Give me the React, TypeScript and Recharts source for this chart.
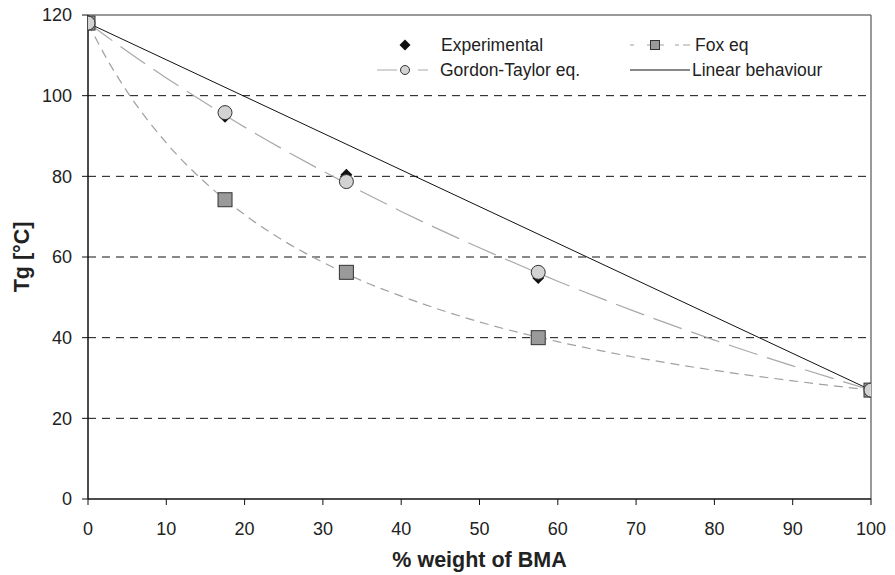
import { ComposedChart, Line, Scatter, XAxis, YAxis, ReferenceLine, Legend, Label } from 'recharts';

// measured glass transition temperatures vs. BMA weight fraction
const bmaWeight = [0, 17.5, 33, 57.5, 100];
const tgExperimental = [118, 94.8, 80.4, 54.8, 27];
const tgGordonTaylor = [118, 95.8, 78.7, 56.2, 27];
const tgFox = [118, 74.2, 56.2, 40, 27];

// model curves
const curveWeight = [0, 2.5, 5, 10, 15, 20, 25, 30, 35, 40, 50, 60, 70, 80, 90, 100];
const gordonTaylorCurve = [118, 114.5, 111, 104.4, 98.2, 92.2, 86.6, 81.3, 76.2, 71.3, 62.3, 54, 46.4, 39.4, 33, 27];
const foxCurve = [118, 108.8, 101, 88.3, 78.4, 70.5, 64, 58.7, 54.1, 50.3, 43.9, 39, 35.1, 31.9, 29.3, 27];

const linearWeight = [0, 100];
const linearTg = [118, 27];

const xTicks = [0, 10, 20, 30, 40, 50, 60, 70, 80, 90, 100];
const yTicks = [0, 20, 40, 60, 80, 100, 120];
const gridLines = [20, 40, 60, 80, 100];

const toPoints = (xs: number[], ys: number[]) => xs.map((x, i) => ({ x, y: ys[i] }));

const expData = toPoints(bmaWeight, tgExperimental);
const gtData = toPoints(bmaWeight, tgGordonTaylor);
const foxData = toPoints(bmaWeight, tgFox);
const gtCurveData = toPoints(curveWeight, gordonTaylorCurve);
const foxCurveData = toPoints(curveWeight, foxCurve);
const linearData = toPoints(linearWeight, linearTg);

const FONT = '"Liberation Sans", Arial, Helvetica, sans-serif';
const TEXT = '#222';
const GT_COLOR = '#a8a8a8';
const FOX_COLOR = '#a0a0a0';

const Diamond = ({ cx, cy, s = 6 }: any) => (
  <polygon points={`${cx},${cy - s} ${cx + s},${cy} ${cx},${cy + s} ${cx - s},${cy}`} fill="#111" />
);

const Dot = ({ cx, cy, r = 7 }: any) => (
  <circle cx={cx} cy={cy} r={r} fill="#d3d3d3" stroke="#333" strokeWidth={1} />
);

const Square = ({ cx, cy, s = 7 }: any) => (
  <rect x={cx - s} y={cy - s} width={2 * s} height={2 * s} fill="#9a9a9a" stroke="#333" strokeWidth={1} />
);

function LegendBox() {
  const t = { fontFamily: FONT, fontSize: 17.5, fill: TEXT };
  return (
    <svg width={440} height={50} style={{ overflow: 'visible' }}>
      {/* Experimental */}
      <Diamond cx={35} cy={16} s={5.5} />
      <text x={71} y={22} {...t}>Experimental</text>
      {/* Gordon-Taylor */}
      <line x1={7} y1={41} x2={27} y2={41} stroke={GT_COLOR} strokeWidth={1} />
      <Dot cx={35} cy={41} r={4.5} />
      <line x1={48} y1={41} x2={58} y2={41} stroke={GT_COLOR} strokeWidth={1} />
      <text x={70} y={47} {...t}>Gordon-Taylor eq.</text>
      {/* Fox */}
      <line x1={260} y1={16} x2={264} y2={16} stroke={FOX_COLOR} strokeWidth={1} />
      <line x1={277} y1={16} x2={294} y2={16} stroke={FOX_COLOR} strokeWidth={1} />
      <Square cx={285} cy={16} s={4.5} />
      <line x1={305} y1={16} x2={309} y2={16} stroke={FOX_COLOR} strokeWidth={1} />
      <line x1={313} y1={16} x2={320} y2={16} stroke={FOX_COLOR} strokeWidth={1} />
      <text x={325} y={22} {...t}>Fox eq</text>
      {/* Linear */}
      <line x1={260} y1={41} x2={320} y2={41} stroke="#111" strokeWidth={1} />
      <text x={322} y={47} {...t}>Linear behaviour</text>
    </svg>
  );
}

export default function App() {
  const tick = { fontFamily: FONT, fontSize: 18, fill: TEXT };
  const title = { fontFamily: FONT, fontSize: 21.5, fontWeight: 'bold', fill: TEXT };
  return (
    <div style={{ position: 'absolute', left: 0, top: 0, width: 895, height: 575, background: '#fff' }}>
      <ComposedChart
        width={895}
        height={575}
        margin={{ top: 15, right: 24, bottom: 0, left: 8 }}
      >
        <XAxis
          type="number"
          dataKey="x"
          domain={[0, 100]}
          ticks={xTicks}
          tick={tick}
          tickSize={6}
          tickMargin={17}
          height={76}
          axisLine={{ stroke: '#111', strokeWidth: 1.5 }}
          tickLine={{ stroke: '#111' }}
          allowDataOverflow
        >
          <Label value="% weight of BMA" position="insideBottom" offset={8} style={title} />
        </XAxis>
        <YAxis
          type="number"
          dataKey="y"
          domain={[0, 120]}
          ticks={yTicks}
          tick={tick}
          tickSize={6}
          tickMargin={10}
          width={80}
          axisLine={{ stroke: '#111', strokeWidth: 1.5 }}
          tickLine={{ stroke: '#111' }}
          allowDataOverflow
        >
          <Label
            value="Tg [°C]"
            angle={-90}
            position="insideLeft"
            offset={13}
            style={{ ...title, textAnchor: 'middle' }}
          />
        </YAxis>
        {gridLines.map((v) => (
          <ReferenceLine key={v} y={v} stroke="#111" strokeDasharray="8 6" strokeWidth={1} />
        ))}
        <ReferenceLine y={120} stroke="#777" strokeWidth={1.5} />
        <ReferenceLine x={100} stroke="#777" strokeWidth={1.5} />

        <Line data={linearData} dataKey="y" type="linear" stroke="#111" strokeWidth={1} dot={false} isAnimationActive={false} legendType="none" />
        <Line data={gtCurveData} dataKey="y" type="monotone" stroke={GT_COLOR} strokeWidth={1.2} strokeDasharray="30 10" dot={false} isAnimationActive={false} legendType="none" />
        <Line data={foxCurveData} dataKey="y" type="monotone" stroke={FOX_COLOR} strokeWidth={1.2} strokeDasharray="9 6" dot={false} isAnimationActive={false} legendType="none" />

        <Scatter data={expData} dataKey="y" shape={(p: any) => <Diamond cx={p.cx} cy={p.cy} />} isAnimationActive={false} legendType="none" />
        <Scatter data={foxData} dataKey="y" shape={(p: any) => <Square cx={p.cx} cy={p.cy} />} isAnimationActive={false} legendType="none" />
        <Scatter data={gtData} dataKey="y" shape={(p: any) => <Dot cx={p.cx} cy={p.cy} />} isAnimationActive={false} legendType="none" />

        <Legend
          layout="vertical"
          align="center"
          verticalAlign="middle"
          content={() => <LegendBox />}
          wrapperStyle={{ position: 'absolute', left: 370, top: 29, width: 440, height: 50 }}
        />
      </ComposedChart>
    </div>
  );
}
